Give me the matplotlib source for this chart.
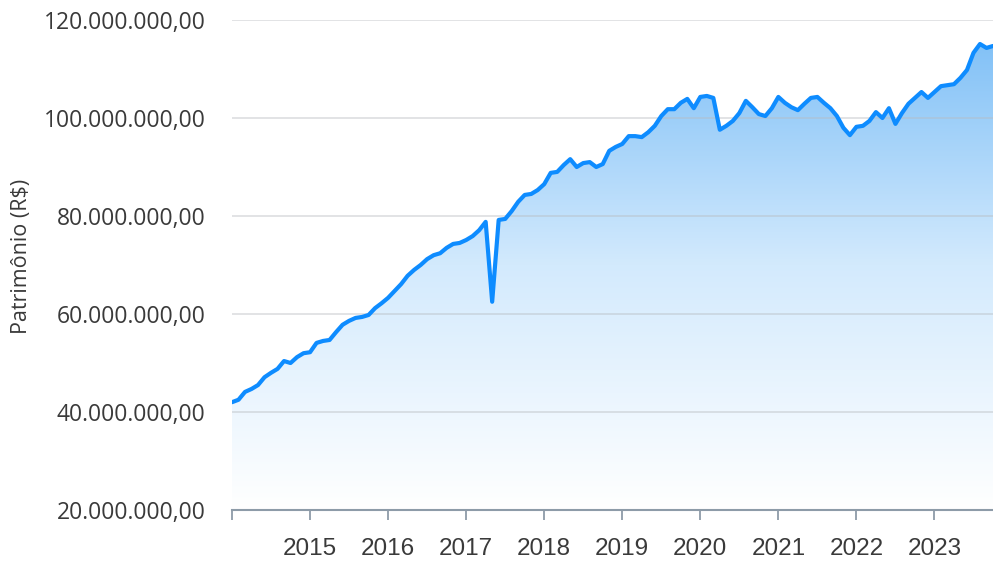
import numpy as np
import matplotlib
matplotlib.use('Agg')
import matplotlib.pyplot as plt
from matplotlib.colors import LinearSegmentedColormap
from matplotlib.ticker import FuncFormatter

# monthly net worth (millions of R$), Jan 2014 .. Oct 2023
values = [
    42.0, 42.5, 44.1, 44.7, 45.5, 47.1, 48.0, 48.8, 50.4, 50.0, 51.2, 52.0,
    52.2, 54.1, 54.5, 54.7, 56.3, 57.8, 58.6, 59.2, 59.4, 59.8, 61.2, 62.2,
    63.3, 64.7, 66.1, 67.8, 69.0, 70.0, 71.2, 72.0, 72.4, 73.5, 74.3, 74.5,
    75.1, 75.9, 77.1, 78.8, 62.5, 79.2, 79.4, 81.0, 82.9, 84.3, 84.5, 85.3,
    86.5, 88.8, 89.0, 90.4, 91.6, 90.0, 90.8, 91.0, 90.0, 90.6, 93.3, 94.1,
    94.7, 96.3, 96.3, 96.1, 97.1, 98.4, 100.4, 101.8, 101.8, 103.1, 103.9, 102.0,
    104.3, 104.5, 104.1, 97.6, 98.4, 99.4, 101.0, 103.5, 102.2, 100.8, 100.4, 102.0,
    104.3, 103.1, 102.2, 101.6, 102.9, 104.1, 104.3, 103.1, 102.0, 100.4, 98.0, 96.5,
    98.2, 98.4, 99.4, 101.2, 100.0, 102.0, 98.8, 101.0, 102.9, 104.1, 105.3, 104.1,
    105.3, 106.5, 106.7, 106.9, 108.2, 109.8, 113.3, 115.1, 114.3, 114.7,
]
start_year = 2014
years = list(range(2014, 2024))
year_labels = [''] + [str(y) for y in years[1:]]
y_ticks = [20, 40, 60, 80, 100, 120]

vals = np.array(values) * 1e6
t = start_year + np.arange(len(vals)) / 12.0


def brl(v, pos=None):
    s = f'{v:,.2f}'
    return s.replace(',', 'X').replace('.', ',').replace('X', '.')


fig = plt.figure(figsize=(9.93, 5.69), dpi=100)
ax = fig.add_axes([232 / 993, 59 / 569, 761 / 993, 490 / 569])
ax.set_xlim(t[0], t[-1])
ax.set_ylim(20e6, 120e6)

# gradient fill under the curve
cmap = LinearSegmentedColormap.from_list('fill', ['#ffffff', '#d3eafd', '#7abdf6'])
grad = np.linspace(0, 1, 256).reshape(-1, 1)
img = ax.imshow(grad, cmap=cmap, aspect='auto', origin='lower',
                extent=[t[0], t[-1], 20e6, 120e6], zorder=1)
poly = ax.fill_between(t, vals, 20e6, color='none', lw=0)
clip = poly.get_paths()[0]
img.set_clip_path(clip, transform=ax.transData)

ax.plot(t, vals, color='#0e8cff', lw=3.0, zorder=3,
        solid_joinstyle='round', solid_capstyle='round')

for yv in y_ticks[1:]:
    ax.axhline(yv * 1e6, color='#b8bcc0', lw=1.3, alpha=0.45, zorder=2)

for s in ['top', 'right', 'left']:
    ax.spines[s].set_visible(False)
ax.spines['bottom'].set_color('#8d9ba8')
ax.spines['bottom'].set_linewidth(1.5)
ax.spines['bottom'].set_zorder(4)

ax.set_yticks([v * 1e6 for v in y_ticks])
ax.yaxis.set_major_formatter(FuncFormatter(brl))
ax.tick_params(axis='y', length=0, pad=19, labelsize=16.5, labelcolor='#3a3a3a')
for lab in ax.get_yticklabels():
    lab.set_family('Open Sans')

ax.set_xticks(years)
ax.set_xticklabels(year_labels)
ax.tick_params(axis='x', length=7, width=1.3, color='#8d9ba8', pad=13,
               labelsize=17.5, labelcolor='#3a3a3a')
for lab in ax.get_xticklabels():
    lab.set_family('Liberation Sans')

fig.text(22 / 993, 1 - 256 / 569, 'Patrimônio (R$)', rotation=90, ha='center',
         va='center', fontsize=15.5, color='#3a3a3a', family='Open Sans')

fig.savefig('out.png', dpi=100)
